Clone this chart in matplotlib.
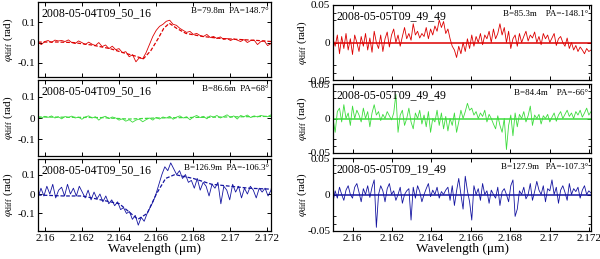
import matplotlib
matplotlib.use("Agg")
import matplotlib.pyplot as plt
import numpy as np

plt.rcParams["font.family"] = ["Liberation Serif", "DejaVu Serif"]
plt.rcParams["mathtext.fontset"] = "stix"

# ---- left column: 2008-05-04 ----
left_range = (2.1596, 2.1722)
left_dates = ["2008-05-04T09_50_16", "2008-05-04T09_50_16", "2008-05-04T09_50_16"]
left_baselines = ["B=79.8m  PA=148.7°", "B=86.6m  PA=68°", "B=126.9m  PA=-106.3°"]

red_left = [0.0, -0.01, 0.005, 0.01, 0.0, 0.012, 0.008, 0.01, 0.005, 0.013, 0.0, -0.005, 0.008, 0.0,
            -0.01, 0.002, -0.008, -0.015, 0.0, -0.02, -0.012, -0.03, -0.018, -0.035, -0.03, -0.05,
            -0.045, -0.07, -0.06, -0.095, -0.075,
            -0.08, -0.05, -0.01, 0.03, 0.06, 0.08, 0.09, 0.105, 0.11,
            0.09, 0.085, 0.07, 0.06, 0.05, 0.055, 0.04, 0.045, 0.035, 0.03, 0.04, 0.025, 0.03, 0.02,
            0.028, 0.015, 0.02, 0.01, 0.018, 0.012, 0.005, 0.015, 0.0, 0.01, 0.012, -0.01, 0.005,
            0.008, -0.015, -0.005]
red_left_model_wl = [2.1596, 2.1605, 2.1615, 2.1625, 2.1635, 2.1642, 2.1648, 2.1653, 2.1657, 2.1661,
                     2.1664, 2.1667, 2.1671, 2.1676, 2.1685, 2.1695, 2.1705, 2.1715, 2.1722]
red_left_model = [0.002, 0.003, 0.0, -0.012, -0.03, -0.05, -0.065, -0.08, -0.04, 0.02,
                  0.07, 0.095, 0.07, 0.045, 0.03, 0.02, 0.015, 0.01, 0.005]

green_left = [0.005, 0.0, 0.008, 0.003, 0.01, 0.0, 0.006, -0.004, 0.007, 0.002, 0.009, 0.0, 0.004,
              -0.006, 0.005, 0.01, 0.0, 0.006, -0.01, 0.003, 0.008, -0.003, 0.005, 0.0, -0.01, -0.004,
              -0.015, -0.008, -0.02, -0.01, -0.005, -0.018, -0.008, 0.0, -0.01, 0.003, -0.005, 0.005,
              0.0, 0.008, -0.006, 0.004, 0.01, 0.0, 0.006, -0.008, 0.005, 0.012, 0.002, 0.008, -0.004,
              0.01, 0.004, 0.012, 0.0, 0.007, 0.015, 0.003, 0.01, -0.005, 0.012, 0.006, 0.014, 0.002,
              0.01, 0.005, 0.012, 0.008, 0.006, 0.015]
green_left_model_wl = [2.1596, 2.163, 2.1645, 2.166, 2.1722]
green_left_model = [0.005, 0.002, -0.005, 0.0, 0.008]

blue_left = [-0.02, 0.03, -0.01, 0.04, 0.0, 0.05, -0.02, 0.02, 0.035, -0.01, 0.05, 0.0, 0.03, -0.01,
             0.04, 0.01, -0.02, 0.02, -0.03, 0.01, -0.025, 0.0, -0.04, -0.01, -0.05, -0.03, -0.06,
             -0.04, -0.08, -0.07, -0.1, -0.09, -0.13, -0.11, -0.16, -0.12, -0.14, -0.1, -0.07, -0.04,
             0.0, 0.05, 0.1, 0.14, 0.12, 0.16, 0.13, 0.1, 0.12, 0.08, 0.1, 0.06, 0.07, 0.03, 0.08,
             0.02, 0.06, 0.04, -0.01, 0.05, 0.03, 0.06, -0.05, 0.04, 0.02, -0.03, 0.05, 0.01, 0.04,
             -0.02, 0.03, 0.0, 0.04, 0.02, -0.02, 0.03, 0.01, 0.03, -0.01, 0.02]
blue_left_model_wl = [2.1596, 2.161, 2.162, 2.163, 2.164, 2.1645, 2.165, 2.1655, 2.166, 2.1665,
                      2.167, 2.168, 2.169, 2.170, 2.171, 2.1722]
blue_left_model = [-0.005, -0.01, -0.01, -0.03, -0.05, -0.09, -0.13, -0.1, 0.0, 0.08,
                   0.1, 0.08, 0.05, 0.04, 0.03, 0.025]

# ---- right column: 2008-05-05 ----
right_range = (2.159, 2.1721)
right_dates = ["2008-05-05T09_49_49", "2008-05-05T09_49_49", "2008-05-05T09_19_49"]
right_baselines = ["B=85.3m    PA=-148.1°", "B=84.4m    PA=-66°", "B=127.9m   PA=-107.3°"]

red_right = [0.005, -0.005, 0.01, -0.015, 0.008, -0.008, 0.012, -0.01, 0.005, -0.016, 0.01, 0.0,
             -0.012, 0.008, -0.005, 0.012, -0.01, 0.006, -0.013, 0.015, 0.0, -0.008, 0.01, -0.012,
             0.005, 0.014, -0.006, 0.01,
             0.018, 0.0, 0.01, -0.005, 0.008, 0.02, 0.005, 0.012, 0.003, 0.025, 0.01, 0.015, 0.006,
             0.012, 0.008, 0.02, 0.005, 0.018, 0.01, 0.022, 0.015, 0.03, 0.02,
             0.028, 0.012, 0.018, 0.005, -0.005, -0.01, -0.02, -0.005, -0.015, 0.0,
             -0.012, 0.005, -0.008, 0.01, -0.005, 0.008, 0.0, 0.012, -0.003, 0.01, 0.005, 0.015, 0.0,
             0.018, 0.005, 0.012, 0.025, 0.01, 0.02, 0.0, 0.015, -0.008, 0.005, 0.01, -0.005, 0.012,
             0.0, 0.008, 0.015, 0.002, 0.01, 0.006, 0.014, 0.0, 0.008, -0.003, 0.012, 0.005, 0.01,
             0.0, 0.006, 0.012, -0.004, 0.005,
             0.008, 0.0, -0.005, 0.006, -0.008, 0.0, -0.01, -0.004, -0.012, -0.006, -0.01, -0.015,
             -0.008, -0.012, -0.01]

green_right = [0.0, -0.02, 0.01, 0.015, -0.005, 0.02, 0.0, 0.008, -0.01, 0.018, 0.0, 0.012, 0.005,
               -0.005, 0.015, 0.0, 0.01, -0.012, 0.008, 0.02, 0.005, 0.01, -0.003, 0.006, 0.0, 0.01,
               0.004, -0.002, 0.008, 0.035, -0.02, 0.005, 0.012, -0.01, 0.0, 0.015, -0.005, -0.015,
               0.008, 0.0, 0.012, -0.008, 0.005, -0.012, 0.01, -0.02, 0.0, -0.005, 0.012, -0.01, 0.008,
               -0.015, 0.003, -0.018, 0.0, -0.01, 0.008, -0.02, -0.005, 0.012, 0.0, 0.01, 0.022, 0.012,
               0.015, 0.005, 0.01, 0.0, 0.008, 0.003, 0.012, -0.005, 0.006, 0.0, -0.008, -0.015, 0.004,
               -0.01, -0.02, 0.0, -0.045, -0.01, 0.005, -0.025, 0.008, -0.012, 0.006, 0.0, 0.01,
               -0.005, 0.004, 0.018, -0.01, 0.005, 0.0, 0.006, -0.008, 0.004, 0.0, 0.006, -0.005,
               0.002, 0.008, -0.004, 0.005, 0.01, 0.0, 0.006, 0.012, 0.003, 0.008, 0.0, 0.01, 0.005,
               0.012, 0.002, 0.008, 0.015, 0.005, 0.01]

blue_right = [-0.01, 0.005, -0.005, 0.01, 0.0, -0.008, 0.006, 0.012, 0.0, -0.005, 0.01, 0.015, 0.003,
              -0.01, 0.008, 0.0, 0.012, -0.004, 0.01, 0.02, -0.045, 0.0, 0.012, 0.005, -0.01, 0.008,
              0.015, 0.0, 0.005, -0.008, 0.0, 0.01, -0.012, 0.0, 0.005, 0.008, -0.035, 0.01, -0.005,
              0.012, 0.004, -0.01, 0.0, 0.008, 0.015, -0.003, 0.006, 0.0, 0.01, -0.005, 0.004, 0.0,
              0.006, 0.01, -0.008, 0.012, -0.015, 0.005, 0.022, 0.0, -0.02, 0.025, 0.005, -0.01,
              -0.035, 0.012, 0.0, 0.008, -0.008, 0.015, 0.0, 0.005, -0.012, 0.006, 0.0, -0.005, 0.01,
              -0.015, 0.004, 0.008, 0.0, -0.01, 0.012, 0.02, -0.03, -0.02, 0.005, 0.0, 0.01, -0.006,
              0.0, 0.015, -0.008, 0.004, 0.018, 0.006, 0.0, 0.012, -0.01, 0.008, 0.005, 0.02, 0.0,
              0.01, -0.012, 0.006, 0.012, 0.003, -0.008, 0.015, 0.0, 0.008, 0.004, 0.01, -0.005,
              0.006, 0.012, 0.0, 0.005, 0.002]
right_model_wl = [2.159, 2.1721]
right_model = [0.0, 0.0]

xticks = [2.16, 2.162, 2.164, 2.166, 2.168, 2.17, 2.172]
xtick_labels = ["2.16", "2.162", "2.164", "2.166", "2.168", "2.17", "2.172"]

RED, GREEN, BLUE = "#dd0000", "#3ddc3d", "#1414a0"
W, H = 600, 259


def box(x0, y0, x1, y1):
    return [x0 / W, 1 - y1 / H, (x1 - x0) / W, (y1 - y0) / H]


def style(ax, xr, yr, yticks, ylabels, bottom, label_x):
    ax.set_xlim(*xr)
    ax.set_ylim(*yr)
    ax.set_xticks(xticks)
    ax.set_yticks(yticks)
    ax.set_yticklabels(ylabels)
    ax.tick_params(direction="in", length=3, width=0.7, top=True, right=True,
                   labelsize=8, pad=2)
    if bottom:
        ax.set_xticklabels(xtick_labels)
        ax.set_xlabel("Wavelength (μm)", fontsize=9.5, labelpad=0)
    else:
        ax.set_xticklabels([])
    for s in ax.spines.values():
        s.set_linewidth(0.9)
    ax.set_ylabel(r"$\varphi_{\rm diff}$ (rad)", fontsize=8)
    ax.yaxis.set_label_coords(label_x, 0.5)


def annotate(ax, date, base):
    ax.text(0.015, 0.93, date, transform=ax.transAxes, fontsize=8.5, va="top", ha="left")
    ax.text(0.99, 0.93, base, transform=ax.transAxes, fontsize=6.5, va="top", ha="right")


fig = plt.figure(figsize=(6, 2.59), dpi=100)

left_boxes = [box(38, 2, 271, 77), box(38, 80, 271, 156), box(38, 159, 271, 231)]
left_data = [(red_left, red_left_model_wl, red_left_model, RED),
             (green_left, green_left_model_wl, green_left_model, GREEN),
             (blue_left, blue_left_model_wl, blue_left_model, BLUE)]
left_ylims = [(-0.17, 0.2), (-0.18, 0.18), (-0.19, 0.18)]
for i, (b, (vals, mwl, mvals, col)) in enumerate(zip(left_boxes, left_data)):
    ax = fig.add_axes(b)
    wl = np.linspace(left_range[0], left_range[1], len(vals))
    ax.plot(wl, vals, color=col, lw=0.6)
    ax.plot(mwl, mvals, color=col, lw=0.9, ls=(0, (3, 1.5)))
    style(ax, left_range, left_ylims[i], [-0.1, 0, 0.1], ["-0.1", "0", "0.1"], i == 2,
          (15 - 38) / 233)
    annotate(ax, left_dates[i], left_baselines[i])

right_boxes = [box(333, 5, 591, 80), box(333, 84, 591, 153), box(333, 158, 591, 231)]
right_data = [(red_right, RED), (green_right, GREEN), (blue_right, BLUE)]
for i, (b, (vals, col)) in enumerate(zip(right_boxes, right_data)):
    ax = fig.add_axes(b)
    wl = np.linspace(right_range[0], right_range[1], len(vals))
    ax.plot(wl, vals, color=col, lw=0.6)
    ax.plot(right_model_wl, right_model, color=col, lw=1.1)
    style(ax, right_range, (-0.05, 0.05), [-0.05, 0, 0.05], ["-0.05", "0", "0.05"], i == 2,
          (309 - 333) / 258)
    ax.set_yticks([-0.04, -0.03, 0.03, 0.04], minor=True)
    ax.tick_params(which="minor", direction="in", length=2, right=True)
    annotate(ax, right_dates[i], right_baselines[i])

fig.savefig("out.png", dpi=100)
